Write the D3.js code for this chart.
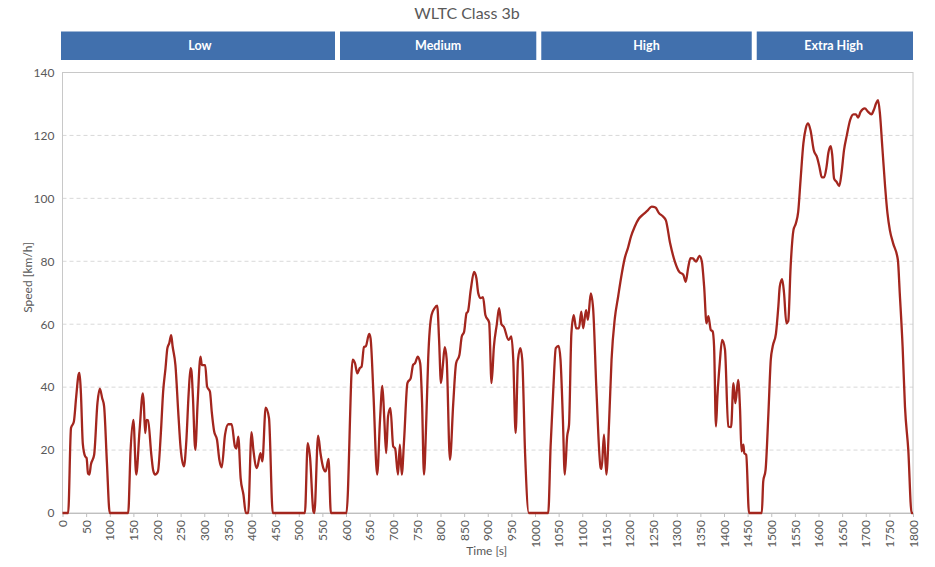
<!DOCTYPE html>
<html>
<head>
<meta charset="utf-8">
<script src="https://cdn.jsdelivr.net/npm/d3@7"></script>
<style>
    body { margin: 0; background: #fff; }
    #chart { width: 935px; height: 567px; }
    text { font-family: Lato, "Open Sans", sans-serif; }
    .axis text { fill: #595959; font-size: 12px; }
    .axis path, .axis line { stroke: #bfbfbf; }
    .grid line { stroke: #d9d9d9; stroke-dasharray: 4,3; }
    .axis-label { fill: #595959; font-size: 12px; text-anchor: middle; }
    .chart-title { fill: #595959; font-size: 16px; text-anchor: middle; }
    .phase rect { fill: #4170ad; }
    .phase text { fill: #fff; font-size: 12.5px; font-weight: bold; text-anchor: middle; }
    .speed-line { fill: none; stroke: #a3261e; stroke-width: 2.3; stroke-linejoin: round; }
</style>
</head>
<body>
<div id="chart"></div>
<script>
// ============================================================
//  WLTC Class 3b — vehicle speed over time
// ============================================================

// --- Data ---
const timeSec = [
    0, 12, 18, 24, 29, 34, 36, 39, 43, 48, 51, 54, 57, 60, 67, 74, 79, 84, 88, 94, 100,
    139, 144, 150, 156, 163, 170, 172, 175, 178, 181, 188, 192, 196, 202, 208, 213, 218, 222, 226, 230,
    233, 239, 245, 250, 257, 262, 267, 271, 273, 276, 281, 286, 292, 295, 302, 306, 312, 316, 321, 327,
    332, 337, 344, 351, 358, 365, 368, 372, 377, 383, 388, 393, 400, 404, 411, 413, 419, 423, 430, 437,
    445, 513, 519, 524, 531, 533, 541, 546, 552, 557, 563, 568, 601,
    614, 619, 624, 629, 633, 638, 642, 649, 652, 658, 666, 672, 677, 681, 685, 689, 694, 700, 704, 710,
    714, 718, 723, 730, 737, 742, 746, 752, 757, 761, 765, 770, 774, 781, 787, 793, 797, 801, 805, 809,
    813, 820, 827, 833, 840, 845, 850, 855, 858, 864, 871, 876, 880, 885, 890, 895, 903, 908, 913, 919,
    924, 929, 934, 944, 950, 954, 959, 964, 969, 973, 979, 987, 1028,
    1033, 1039, 1044, 1050, 1054, 1059, 1063, 1068, 1072, 1077, 1082, 1087, 1093, 1098, 1102, 1108, 1112,
    1118, 1123, 1130, 1139, 1141, 1146, 1151, 1157, 1162, 1169, 1176, 1182, 1190, 1197, 1203, 1211, 1220,
    1229, 1238, 1247, 1255, 1262, 1271, 1277, 1286, 1296, 1305, 1314, 1319, 1324, 1329, 1334, 1341, 1348,
    1353, 1358, 1363, 1367, 1372, 1376, 1379, 1383, 1386, 1391, 1396, 1402, 1409, 1415, 1420, 1424, 1430,
    1434, 1437, 1441, 1443, 1447, 1453, 1480,
    1483, 1488, 1494, 1499, 1503, 1510, 1515, 1518, 1523, 1527, 1532, 1536, 1541, 1547, 1552, 1557, 1562,
    1568, 1573, 1578, 1583, 1590, 1597, 1602, 1607, 1612, 1617, 1621, 1626, 1629, 1633, 1638, 1644, 1649,
    1654, 1660, 1667, 1674, 1679, 1684, 1689, 1698, 1705, 1712, 1717, 1722, 1726, 1730, 1735, 1741, 1746,
    1751, 1758, 1768, 1772, 1778, 1783, 1790, 1797, 1800
];

const speedKmh = [
    0, 0, 27, 29, 37, 44, 44.5, 38, 22, 18, 17.5, 12.5, 12.2, 15.3, 18.5, 35, 39.5, 36.5, 34, 16, 0,
    0, 19.6, 29.6, 12.2, 26, 38, 35, 25.4, 29.6, 29.5, 18.5, 13.5, 12.2, 13.2, 25, 38.6, 46, 52.4, 54, 56.5,
    53, 47, 32, 20.6, 14.8, 22.7, 38, 46, 45, 37, 20.1, 35, 49.7, 47, 47, 40.2, 38.6, 32, 25.9, 23.3,
    16.9, 14.5, 24.9, 28.2, 28.2, 21.1, 20.5, 24.3, 11.1, 5.8, 0, 0, 25.7, 20, 14.3, 15, 19, 16.4, 33.5, 30.2,
    0, 0, 22.2, 17.5, 0.5, 0, 24.6, 19, 14.3, 13.2, 17.2, 0, 0,
    48.7, 47.6, 44.4, 46, 46.5, 52.7, 53, 56.9, 55.5, 38.1, 12.2, 29.6, 40.4, 30, 19, 30.7, 33.3, 21.1, 20.5, 12.2,
    21.7, 12.2, 23.3, 41.3, 42.9, 47.1, 47.6, 49.7, 47.6, 35, 12.2, 30, 49.2, 62.9, 65, 65.9, 55, 41.3, 47, 52.7,
    49, 16.9, 34.9, 47.6, 50.2, 56.1, 57.6, 63.5, 64, 70.9, 76.6, 74.6, 69.8, 68.3, 68.6, 62.9, 60.5, 41.3, 52.9, 59.8,
    65.1, 60, 59.2, 55, 56.1, 48.7, 25.4, 48.7, 52.4, 48.7, 19, 0, 0,
    21.1, 40.2, 52.4, 53.1, 48.7, 30, 12.2, 24.3, 28, 57, 62.9, 58.7, 58.7, 64, 58.7, 64.5, 61.4,
    69.8, 65, 39.1, 14.3, 14, 24.9, 12.2, 29.6, 48.7, 61.9, 68.8, 74.6, 81, 84.4, 87.8, 91, 93.6,
    94.9, 96.1, 97.4, 97.1, 95.4, 94.2, 93, 85.7, 79.9, 76.7, 75.7, 73.5, 77.8, 81, 80.9, 79.9, 81.7,
    80, 71.9, 60.3, 62.6, 58.2, 57.7, 52.9, 27.5, 37, 47.6, 55, 52, 27.5, 27.3, 41.3, 34.9, 42.3,
    32.8, 19.6, 21.7, 19, 18.5, 0, 0,
    10, 13.7, 31.7, 48.7, 52.9, 57.1, 65.6, 71.9, 74.3, 70, 60.3, 61, 78.3, 89.9, 92, 95.7, 105.8,
    117.5, 122.2, 123.8, 121.7, 115.3, 113, 110, 106.7, 106.7, 110, 114.6, 116.6, 113.8, 106.3, 105.3, 103.9, 108.4,
    115.3, 120.1, 124.9, 126.7, 126.7, 125.7, 127.5, 128.6, 127.5, 126.7, 128.1, 130.2, 131.2, 127, 116.4, 103.7, 95.2,
    89.9, 85.7, 80.4, 69.8, 52.9, 33.8, 20.1, 0, 0
];

// phase banners: names and their span in seconds
const phaseNames = ['Low', 'Medium', 'High', 'Extra High'];
const phaseStart = [0, 582, 1008, 1464];
const phaseEnd = [582, 1008, 1464, 1800];

const xTicks = d3.range(0, 1801, 50);
const yTicks = [0, 20, 40, 60, 80, 100, 120, 140];

function renderChart() {
    const W = 935, H = 567;
    const margin = { top: 72.5, right: 22, bottom: 54, left: 62.5 };
    const width = W - margin.left - margin.right;
    const height = H - margin.top - margin.bottom;

    const root = d3.select('#chart').append('svg')
        .attr('width', W)
        .attr('height', H);

    const svg = root.append('g')
        .attr('transform', `translate(${margin.left},${margin.top})`);

    // --- Scales ---
    const x = d3.scaleLinear().domain([0, 1800]).range([0, width]);
    const y = d3.scaleLinear().domain([0, 140]).range([height, 0]);

    // --- Title ---
    root.append('text')
        .attr('class', 'chart-title')
        .attr('x', 467)
        .attr('y', 19)
        .text('WLTC Class 3b');

    // --- Phase banners ---
    const gap = 2.5;
    const phases = svg.selectAll('.phase')
        .data(phaseNames)
        .enter().append('g')
        .attr('class', 'phase');

    phases.append('rect')
        .attr('x', (d, i) => x(phaseStart[i]) + (i === 0 ? -1.5 : gap))
        .attr('y', -41)
        .attr('width', (d, i) => {
            const x0 = x(phaseStart[i]) + (i === 0 ? -1.5 : gap);
            const x1 = x(phaseEnd[i]) - (i === phaseNames.length - 1 ? 0 : gap);
            return x1 - x0;
        })
        .attr('height', 28.5);

    phases.append('text')
        .attr('x', (d, i) => (x(phaseStart[i]) + x(phaseEnd[i])) / 2)
        .attr('y', -26.5)
        .attr('dy', '0.35em')
        .text(d => d);

    // --- Grid ---
    svg.append('g')
        .attr('class', 'grid')
        .selectAll('line')
        .data(yTicks.filter(d => d > 0 && d < 140))
        .enter().append('line')
        .attr('x1', 0).attr('x2', width)
        .attr('y1', d => y(d)).attr('y2', d => y(d));

    // plot area border
    svg.append('rect')
        .attr('width', width)
        .attr('height', height)
        .attr('fill', 'none')
        .attr('stroke', '#c8c8c8');

    // --- Axes ---
    const xAxis = svg.append('g')
        .attr('class', 'axis')
        .attr('transform', `translate(0,${height})`)
        .call(d3.axisBottom(x).tickValues(xTicks).tickFormat(d3.format('d')).tickSize(4).tickSizeOuter(0));

    xAxis.selectAll('text')
        .attr('transform', 'rotate(-90)')
        .attr('x', -7)
        .attr('y', 0)
        .attr('dy', '0.35em')
        .style('text-anchor', 'end');

    svg.append('g')
        .attr('class', 'axis')
        .call(d3.axisLeft(y).tickValues(yTicks).tickSize(0).tickPadding(8))
        .select('.domain').remove();

    // --- Axis labels ---
    svg.append('text')
        .attr('class', 'axis-label')
        .attr('x', width / 2 - 1)
        .attr('y', height + 42)
        .text('Time [s]');

    svg.append('text')
        .attr('class', 'axis-label')
        .attr('transform', 'rotate(-90)')
        .attr('x', -205)
        .attr('y', -31)
        .text('Speed [km/h]');

    // --- Speed trace ---
    const line = d3.line()
        .x((d, i) => x(timeSec[i]))
        .y(d => y(d))
        .curve(d3.curveMonotoneX);

    svg.append('path')
        .datum(speedKmh)
        .attr('class', 'speed-line')
        .attr('d', line);
}

renderChart();
</script>
</body>
</html>
